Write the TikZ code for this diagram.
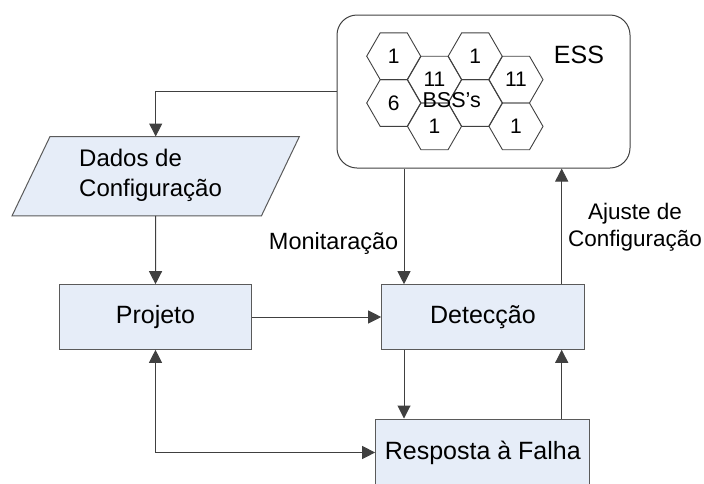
\documentclass[tikz,border=0pt]{standalone}
\usepackage{fontspec}
\setmainfont{Liberation Sans}
\usetikzlibrary{arrows.meta,shapes.geometric,calc}
\definecolor{boxfill}{RGB}{230,237,248}
\definecolor{linec}{RGB}{64,64,64}
\definecolor{borderc}{RGB}{90,90,90}
\begin{document}
\begin{tikzpicture}[x=1pt,y=-1pt,
  every node/.style={font=\fontsize{25}{30}\selectfont},
  procbox/.style={draw=borderc,fill=boxfill,line width=1pt,inner sep=0pt},
  hexcell/.style={regular polygon,regular polygon sides=6,minimum size=54pt,inner sep=0pt,draw=linec,line width=0.9pt,font=\fontsize{21}{24}\selectfont},
  conn/.style={draw=linec,line width=1pt},
  tip/.style={-{Triangle[length=13pt,width=13pt]}},
  lbl/.style={font=\fontsize{23.5}{27}\selectfont,align=center,inner sep=0pt}]
\useasboundingbox (0,0) rectangle (704,483);
\clip (0,0) rectangle (704,483);

% ESS rounded box
\node[draw=linec,line width=1pt,rounded corners=20pt,minimum width=293pt,minimum height=153pt,inner sep=0pt] (ess) at (483.5,91.5) {};
\node (esslbl) at (579,55) {ESS};

% hexagons
\node[hexcell] (h1) at (393.7,56.2) {1};
\node[hexcell] (h2) at (393.7,103) {6};
\node[hexcell] (h3) at (434.5,79.6) {11};
\node[hexcell] (h4) at (434.5,126.4) {1};
\node[hexcell] (h5) at (475.2,56.2) {1};
\node[hexcell] (h6) at (475.2,103) {};
\node[hexcell] (h7) at (516,79.6) {11};
\node[hexcell] (h8) at (516,126.4) {1};
\node[font=\fontsize{21.5}{24}\selectfont,inner sep=0pt] (bss) at (451.7,100) {BSS’s};

% Dados de Configuracao (parallelogram)
\node[inner sep=0pt,minimum width=287pt,minimum height=79pt] (dados) at (155.7,176.2) {};
\fill[boxfill,draw=borderc,line width=1pt] (dados.south west) -- ($(dados.north west)+(38,0)$) -- (dados.north east) -- ($(dados.south east)-(38,0)$) -- cycle;
\node[anchor=west,align=left,inner sep=0pt,font=\fontsize{24}{30}\selectfont] (dadostxt) at (79,175) {Dados de\\Configuração};

% process boxes
\node[procbox,minimum width=192.4pt,minimum height=64.6pt] (proj) at (155.5,317) {Projeto};
\node[procbox,minimum width=202.6pt,minimum height=64.6pt] (detec) at (483,317) {Detecção};
\node[procbox,minimum width=214.3pt,minimum height=67pt] (resp) at (482.8,452.5) {Resposta à Falha};

% helper coordinates
\coordinate (xa) at (404,0);
\coordinate (xb) at (561.7,0);

% connectors
\draw[conn,tip] (ess.west) -| (dados.north);
\draw[conn,tip] (dados.south) -- (proj.north);
\draw[conn,tip] (proj.east) -- (detec.west);
\draw[conn,tip] (ess.south -| xa) -- (detec.north -| xa);
\draw[conn,tip] (detec.south -| xa) -- (resp.north -| xa);
\draw[conn,tip] (resp.north -| xb) -- (detec.south -| xb);
\draw[conn,tip] (detec.north -| xb) -- (ess.south -| xb);
\draw[conn,{Triangle[length=13pt,width=13pt]}-{Triangle[length=13pt,width=13pt]}] (proj.south) |- (resp.west);

% labels
\node[lbl,anchor=east] (mon) at (398.5,243) {Monitaração};
\node[lbl,font=\fontsize{22.5}{27}\selectfont] (ajuste) at (635,227) {Ajuste de\\Configuração};
\end{tikzpicture}
\end{document}
